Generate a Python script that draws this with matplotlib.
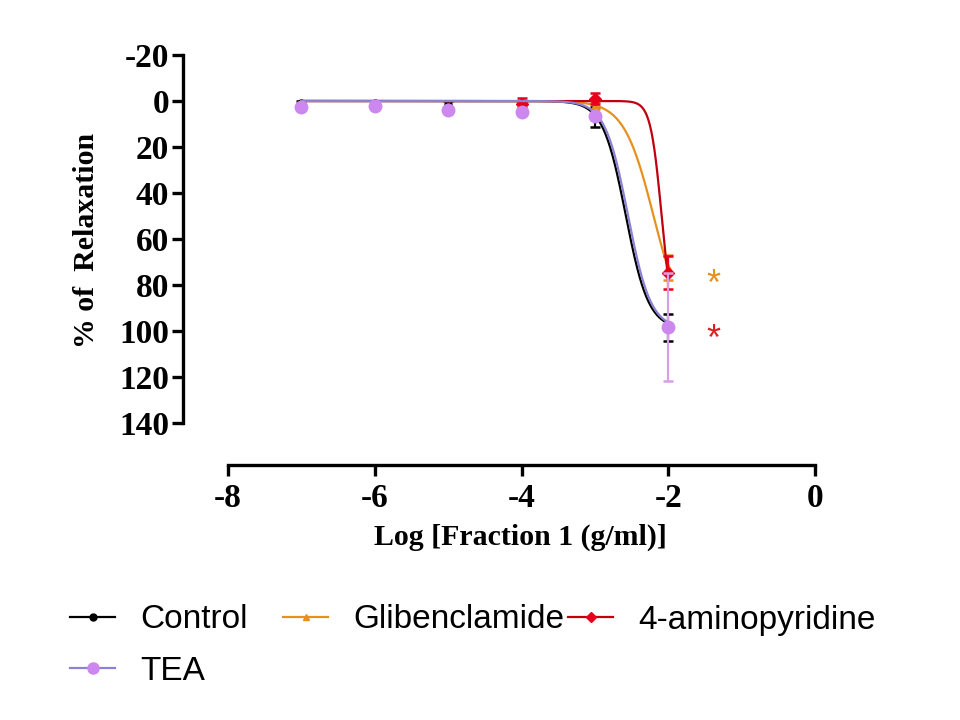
import numpy as np
import matplotlib
matplotlib.use("Agg")
import matplotlib.pyplot as plt
from matplotlib.lines import Line2D

# ---------------- data ----------------
log_conc = [-7, -6, -5, -4, -3, -2]

control_mean = [1.0, 1.0, 1.5, 1.5, 7.0, 98.6]
control_sem = [1.2, 1.0, 1.5, 1.5, 4.5, 5.8]

glib_mean = [2.0, 2.0, 3.0, 3.0, 2.0, 72.5]
glib_sem = [0.5, 0.5, 0.5, 0.5, 1.5, 5.5]

ap_mean = [2.5, 2.3, 3.5, 1.5, -1.0, 74.6]
ap_sem = [0.5, 0.5, 0.5, 2.7, 2.3, 7.0]

tea_mean = [2.5, 2.3, 4.0, 4.7, 6.5, 98.2]
tea_sem = [0.8, 0.8, 1.0, 1.2, 1.5, 23.6]

# fitted sigmoid parameters (bottom, top, logEC50, hill)
control_fit = [0.0, 99.0, -2.58, 2.8]
glib_fit = [0.0, 100.0, -2.20, 2.15]
ap_fit = [0.0, 100.0, -2.09, 5.8]
tea_fit = [0.0, 99.0, -2.55, 2.8]

series_names = ["Control", "Glibenclamide", "4-aminopyridine", "TEA"]
x_ticks = [-8, -6, -4, -2, 0]
y_ticks = [-20, 0, 20, 40, 60, 80, 100, 120, 140]
star_x = -1.38
star_y = [76, 100]

# ---------------- style ----------------
C_BLACK = "#000000"
C_ORANGE = "#e8901e"
C_RED_LINE = "#c00010"
C_RED_MK = "#e8001a"
C_TEA_LINE = "#8c82d2"
C_TEA_MK = "#cc88ee"
C_TEA_ERR = "#d8a0e4"


def sigmoid(x, p):
    b, t, ec, h = p
    return b + (t - b) / (1 + 10 ** ((ec - x) * h))


W, H = 960, 720
fig = plt.figure(figsize=(9.6, 7.2), dpi=100)
fig.patch.set_facecolor("white")

x_left_px, x_m8_px, x_0_px = 183, 228, 815
ppx = (x_0_px - x_m8_px) / 8.0
xmin = -8 - (x_m8_px - x_left_px) / ppx
xmax = 0.15
y_m20_px, y_0_px = 55, 101
ppy = (y_0_px - y_m20_px) / 20.0
y_axis_px = 465
ybot = 140 + (y_axis_px - (y_0_px + 140 * ppy)) / ppy
ytop = -22
top_px = y_0_px + ytop * ppy

ax_left = x_left_px / W
ax_right_px = x_0_px + (xmax - 0) * ppx
ax = fig.add_axes([ax_left, 1 - y_axis_px / H,
                   (ax_right_px - x_left_px) / W, (y_axis_px - top_px) / H])
ax.set_xlim(xmin, xmax)
ax.set_ylim(ybot, ytop)

xfine = np.linspace(-7, -2, 500)

def draw(mean, sem, fit, line_c, mk_c, err_c, marker, ms, z):
    ax.plot(xfine, sigmoid(xfine, fit), color=line_c, lw=1.6, zorder=z)
    ax.errorbar(log_conc, mean, yerr=sem, fmt=marker, color=mk_c, ecolor=err_c,
                ms=ms, mec=mk_c, mfc=mk_c, elinewidth=1.6, capsize=3.8,
                capthick=1.8, zorder=z + 0.5, clip_on=False)

draw(control_mean, control_sem, control_fit, C_BLACK, C_BLACK, C_BLACK, "o", 5, 3)
draw(glib_mean, glib_sem, glib_fit, C_ORANGE, C_ORANGE, C_ORANGE, "^", 6, 4)
draw(ap_mean, ap_sem, ap_fit, C_RED_LINE, C_RED_MK, C_RED_MK, "D", 6, 5)
draw(tea_mean, tea_sem, tea_fit, C_TEA_LINE, C_TEA_MK, C_TEA_ERR, "o", 9, 6)

star_off = 4.0
ax.text(star_x, star_y[0] + star_off, "*", color=C_ORANGE, fontsize=26,
        family="Liberation Sans", ha="center", va="center")
ax.text(star_x, star_y[1] + star_off, "*", color="#e02020", fontsize=26,
        family="Liberation Sans", ha="center", va="center")

# spines
for s in ["top", "right"]:
    ax.spines[s].set_visible(False)
for s in ["left", "bottom"]:
    ax.spines[s].set_linewidth(2.4)
ax.spines["left"].set_bounds(-20, 140)
ax.spines["bottom"].set_bounds(-8, 0)
ax.set_xticks(x_ticks)
ax.set_yticks(y_ticks)
ax.set_xticklabels([str(v) for v in x_ticks])
ax.set_yticklabels([str(v) for v in y_ticks])
ax.tick_params(axis="both", direction="out", width=2.4, length=8, pad=2)
ax.tick_params(axis="x", pad=5)
for lab in ax.get_xticklabels() + ax.get_yticklabels():
    lab.set_fontfamily("Liberation Serif")
    lab.set_fontweight("bold")
    lab.set_fontsize(24)

fig.text(86 / W, 1 - 240 / H, "% of  Relaxation", rotation=90, ha="center",
         va="center", family="Liberation Serif", fontweight="bold", fontsize=21.5)
fig.text(520 / W, 1 - 537 / H, "Log [Fraction 1 (g/ml)]", ha="center",
         va="center", family="Liberation Serif", fontweight="bold", fontsize=21.5)

# legend entries positioned individually
handles = [
    Line2D([], [], color=C_BLACK, lw=1.6, marker="o", ms=5, mfc=C_BLACK, mec=C_BLACK),
    Line2D([], [], color=C_ORANGE, lw=1.6, marker="^", ms=5, mfc=C_ORANGE, mec=C_ORANGE),
    Line2D([], [], color=C_RED_LINE, lw=1.6, marker="D", ms=5, mfc=C_RED_MK, mec=C_RED_MK),
    Line2D([], [], color=C_TEA_LINE, lw=1.6, marker="o", ms=8, mfc=C_TEA_MK, mec=C_TEA_MK),
]
leg_pos = [(70, 620), (283, 620), (568, 620), (70, 671)]
for h, name, (px, py) in zip(handles, series_names, leg_pos):
    fig.legend([h], [name], loc="center left", bbox_to_anchor=(px / W, 1 - py / H),
               frameon=False, borderpad=0, borderaxespad=0, handlelength=1.36,
               handletextpad=0.75,
               prop={"family": "Liberation Sans", "size": 24})

fig.savefig("out.png", dpi=100, facecolor="white")
